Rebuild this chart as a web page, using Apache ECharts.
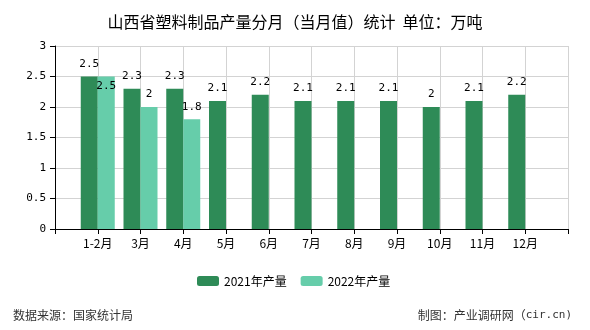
<!DOCTYPE html>
<html>
<head>
<meta charset="utf-8">
<script src="https://cdn.jsdelivr.net/npm/echarts@6/dist/echarts.min.js"></script>
<style>
  html, body { margin: 0; padding: 0; background: #fff; }
  #chart { width: 590px; height: 330px; }
</style>
</head>
<body>
<div id="chart"></div>
<script>
// Monthly output of plastic products, Shanxi (万吨)
var months = ['1-2月', '3月', '4月', '5月', '6月', '7月', '8月', '9月', '10月', '11月', '12月'];
var output2021 = [2.5, 2.3, 2.3, 2.1, 2.2, 2.1, 2.1, 2.1, 2, 2.1, 2.2];
var output2022 = [2.5, 2, 1.8];
var seriesNames = ['2021年产量', '2022年产量'];
var yTicks = { min: 0, max: 3, interval: 0.5 };

var monoFont = '"DejaVu Sans Mono", "Liberation Mono", monospace';
var cjkFont = '"Noto Sans CJK SC", "Noto Sans", sans-serif';

// Pad the category axis with an empty slot at each end so every month
// sits on a grid line with its two bars straddling it.
var cats = [''].concat(months, ['']);
function pad(arr) {
  var out = ['-'];
  for (var i = 0; i < months.length; i++) out.push(i < arr.length ? arr[i] : '-');
  out.push('-');
  return out;
}
var d2021 = pad(output2021);
var d2022 = pad(output2022).map(function (v, i) {
  // push a label down when it would collide with the neighbouring 2021 label
  if (v !== '-' && d2021[i] === v) {
    return { value: v, label: { offset: [0, 22] } };
  }
  return v;
});

var labelStyle = {
  show: true,
  position: 'top',
  distance: 7,
  color: '#000',
  fontFamily: monoFont,
  fontSize: 11
};

var chart = echarts.init(document.getElementById('chart'), null, { renderer: 'canvas' });
chart.setOption({
  animation: false,
  backgroundColor: '#fff',
  title: {
    text: '山西省塑料制品产量分月（当月值）统计  单位：万吨',
    left: 'center',
    top: 9,
    textStyle: { fontFamily: cjkFont, fontSize: 16, fontWeight: 'normal', color: '#000' }
  },
  legend: {
    left: 192,
    top: 270,
    itemWidth: 22,
    itemHeight: 10,
    itemGap: 14,
    textStyle: { fontFamily: cjkFont, fontSize: 12, color: '#000' },
    data: seriesNames
  },
  grid: { left: 55, right: 22, top: 46, bottom: 101 },
  xAxis: {
    type: 'category',
    boundaryGap: false,
    data: cats,
    axisLine: { lineStyle: { color: '#000' } },
    axisTick: { show: true, interval: 0, length: 5, lineStyle: { color: '#000' } },
    axisLabel: { interval: 0, margin: 8, color: '#000', fontFamily: cjkFont, fontSize: 12 },
    splitLine: { show: true, interval: 0, lineStyle: { color: '#d3d3d3' } }
  },
  yAxis: {
    type: 'value',
    min: yTicks.min,
    max: yTicks.max,
    interval: yTicks.interval,
    axisLine: { show: true, lineStyle: { color: '#000' } },
    axisTick: { show: true, length: 5, lineStyle: { color: '#000' } },
    axisLabel: { margin: 9, color: '#000', fontFamily: monoFont, fontSize: 11 },
    splitLine: { show: true, lineStyle: { color: '#d3d3d3' } }
  },
  series: [
    {
      name: seriesNames[0],
      type: 'bar',
      barWidth: 17,
      barGap: '0%',
      itemStyle: { color: '#2e8b57' },
      label: labelStyle,
      data: d2021
    },
    {
      name: seriesNames[1],
      type: 'bar',
      barWidth: 17,
      barGap: '0%',
      itemStyle: { color: '#66cdaa' },
      label: labelStyle,
      data: d2022
    }
  ],
  graphic: [
    {
      type: 'text',
      left: 13,
      top: 309,
      style: { text: '数据来源：国家统计局', fill: '#333', font: '12px ' + cjkFont }
    },
    {
      type: 'text',
      right: 18,
      top: 309,
      style: {
        text: '{a|制图：产业调研网（}{b|cir.cn)}',
        fill: '#333',
        rich: {
          a: { fontFamily: cjkFont, fontSize: 12, fill: '#333' },
          b: { fontFamily: monoFont, fontSize: 11, fill: '#333' }
        }
      }
    }
  ]
});
</script>
</body>
</html>
